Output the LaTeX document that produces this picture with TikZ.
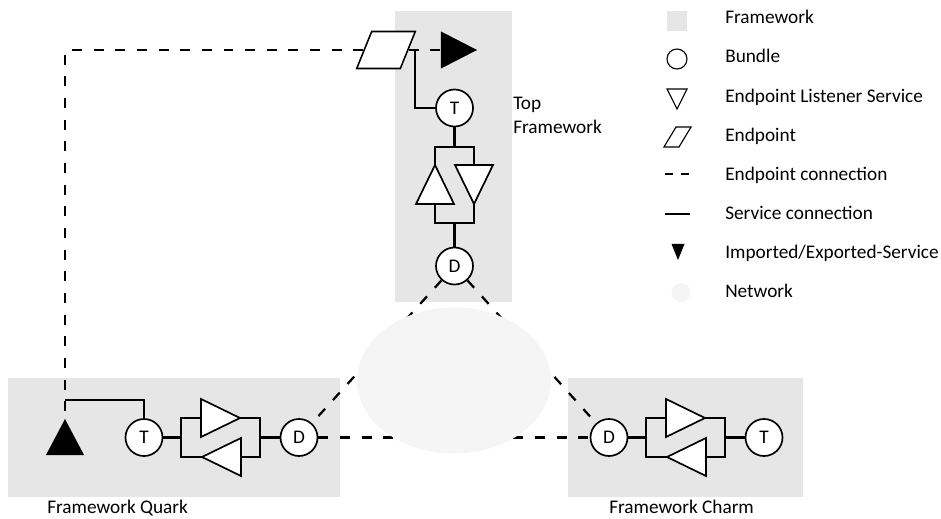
\documentclass[tikz,border=0pt]{standalone}
\usepackage{fontspec}
\setmainfont{Carlito}
\usetikzlibrary{shapes.geometric,calc}
\definecolor{ink}{HTML}{000000}
\definecolor{fw}{HTML}{E6E6E6}
\definecolor{net}{HTML}{F5F5F5}
\tikzset{
  txt/.style={font=\fontsize{13.7pt}{17pt}\selectfont, text=ink, inner sep=0pt},
  fwbox/.style={fill=fw, draw=none, inner sep=0pt},
  bundle/.style={circle, draw=ink, fill=white, line width=1.2pt, minimum size=0.925cm,
    inner sep=0pt, txt},
  lsn/.style={isosceles triangle, isosceles triangle stretches, draw=ink, fill=white,
    line width=1.2pt, inner sep=0pt, outer sep=0pt, minimum width=0.95cm, minimum height=0.975cm},
  imp/.style={isosceles triangle, isosceles triangle stretches, fill=ink, draw=none,
    inner sep=0pt, outer sep=0pt},
  endpt/.style={rectangle, xslant=0.405, draw=ink, fill=white, line width=1.1pt, inner sep=0pt,
    minimum width=1.09cm, minimum height=0.925cm},
  network/.style={ellipse, fill=net, draw=none, inner sep=0pt},
  svc/.style={draw=ink, line width=1.6pt},
  epc/.style={draw=ink, line width=1.6pt, dash pattern=on 7.1pt off 8.3pt},
  lbl/.style={txt, anchor=base west},
}
\begin{document}
\begin{tikzpicture}[x=0.025cm, y=-0.025cm]
  \useasboundingbox (0,0) rectangle (941,519);
  % frameworks
  \node[fwbox, minimum width=2.925cm, minimum height=7.275cm] (topfw) at (453.5,156.5) {};
  \node[fwbox, minimum width=8.3cm, minimum height=2.975cm] (quarkfw) at (174,437.5) {};
  \node[fwbox, minimum width=5.875cm, minimum height=2.975cm] (charmfw) at (685.5,437.5) {};
  \node[lbl, align=left] (toplbl) at (513,133) {Top\\Framework};
  \node[lbl] (quarklbl) at (47,513) {Framework Quark};
  \node[lbl] (charmlbl) at (609,513) {Framework Charm};
  % top framework
  \node[endpt] (ep) at (386,50) {};
  \node[imp, minimum width=0.925cm, minimum height=0.9cm, anchor=apex] (ti) at (477,50) {};
  \node[bundle] (tt) at (454.5,108) {T};
  \node[lsn, rotate=90, anchor=apex] (ul) at (435,165) {};
  \node[lsn, rotate=-90, anchor=apex] (dr) at (474,204) {};
  \node[bundle] (td) at (454.5,266) {D};
  \coordinate (tj) at (415,50);
  \path (ul.apex) ++(0,-18) coordinate (tbt);
  \path (ul.lower side) ++(0,19) coordinate (tbb);
  \draw[svc] (tj) |- (tt);
  \draw[svc] (tt) -- (tt |- tbt);
  \draw[svc] (ul.apex) -- (tbt) -| (dr.lower side);
  \draw[svc] (ul.lower side) -- (tbb) -| (dr.apex);
  \draw[svc] (td) -- (td |- tbb);
  % framework quark
  \node[imp, rotate=90, minimum width=0.95cm, minimum height=0.9cm, anchor=apex] (qi) at (65,419) {};
  \node[bundle] (qt) at (144,437.5) {T};
  \node[lsn, anchor=apex] (qa) at (240,418) {};
  \node[lsn, rotate=180, anchor=apex] (qb) at (202,457) {};
  \node[bundle] (qd) at (299,437.5) {D};
  \coordinate (qj) at (65,400);
  \draw[svc] (qj) -| (qt);
  \draw[svc] (qa.lower side) -- ++(-20,0) coordinate (qbl) |- (qb.apex);
  \draw[svc] (qa.apex) -- ++(20,0) coordinate (qbr) |- (qb.lower side);
  \draw[svc] (qt) -- (qt -| qbl);
  \draw[svc] (qd) -- (qd -| qbr);
  % framework charm
  \node[bundle] (cd) at (609,437.5) {D};
  \node[lsn, anchor=apex] (ca) at (705,418) {};
  \node[lsn, rotate=180, anchor=apex] (cb) at (667,457) {};
  \node[bundle] (ct) at (764,437.5) {T};
  \draw[svc] (ca.lower side) -- ++(-20,0) coordinate (cbl) |- (cb.apex);
  \draw[svc] (ca.apex) -- ++(20,0) coordinate (cbr) |- (cb.lower side);
  \draw[svc] (cd) -- (cd -| cbl);
  \draw[svc] (ct) -- (ct -| cbr);
  % endpoint connections
  \coordinate (cl) at (65,50);
  \draw[epc] (ep) -- (ti);
  \draw[epc] (ep) -- (cl) -- (qi.apex);
  \draw[epc] (td) -- (qd);
  \draw[epc] (td) -- (cd);
  \draw[epc] (qd) -- (cd);
  \node[network, minimum width=4.85cm, minimum height=3.65cm] (net) at (454,380.5) {};
  % legend
  \node[fwbox, minimum size=0.5cm] (kfw) at (677,21) {};
  \node[bundle, minimum size=0.5cm, line width=0.8pt] (kbd) at (677,59) {};
  \node[lsn, rotate=-90, anchor=apex, minimum width=0.5cm, minimum height=0.5cm,
    line width=0.8pt] (kls) at (677,109) {};
  \node[endpt, xslant=0.2, minimum width=0.375cm, minimum height=0.5cm,
    line width=0.8pt] (kep) at (677.5,137) {};
  \draw[epc, dash pattern=on 5.7pt off 5.7pt] (665,174) -- (690,174);
  \draw[svc] (665,214) -- (690,214);
  \node[imp, rotate=-90, anchor=apex, minimum width=0.325cm, minimum height=0.4cm] (kim) at (678,260) {};
  \node[network, circle, minimum size=0.475cm] (knet) at (681,292.5) {};
  \node[lbl] (kfwl) at (725,24) {Framework};
  \node[lbl] (kbdl) at (725,63) {Bundle};
  \node[lbl] (klsl) at (725,102) {Endpoint Listener Service};
  \node[lbl] (kepl) at (725,141) {Endpoint};
  \node[lbl] (kecl) at (725,180) {Endpoint connection};
  \node[lbl] (kscl) at (725,219) {Service connection};
  \node[lbl] (kiml) at (725,258) {Imported/Exported-Service};
  \node[lbl] (knetl) at (725,297) {Network};
\end{tikzpicture}
\end{document}
